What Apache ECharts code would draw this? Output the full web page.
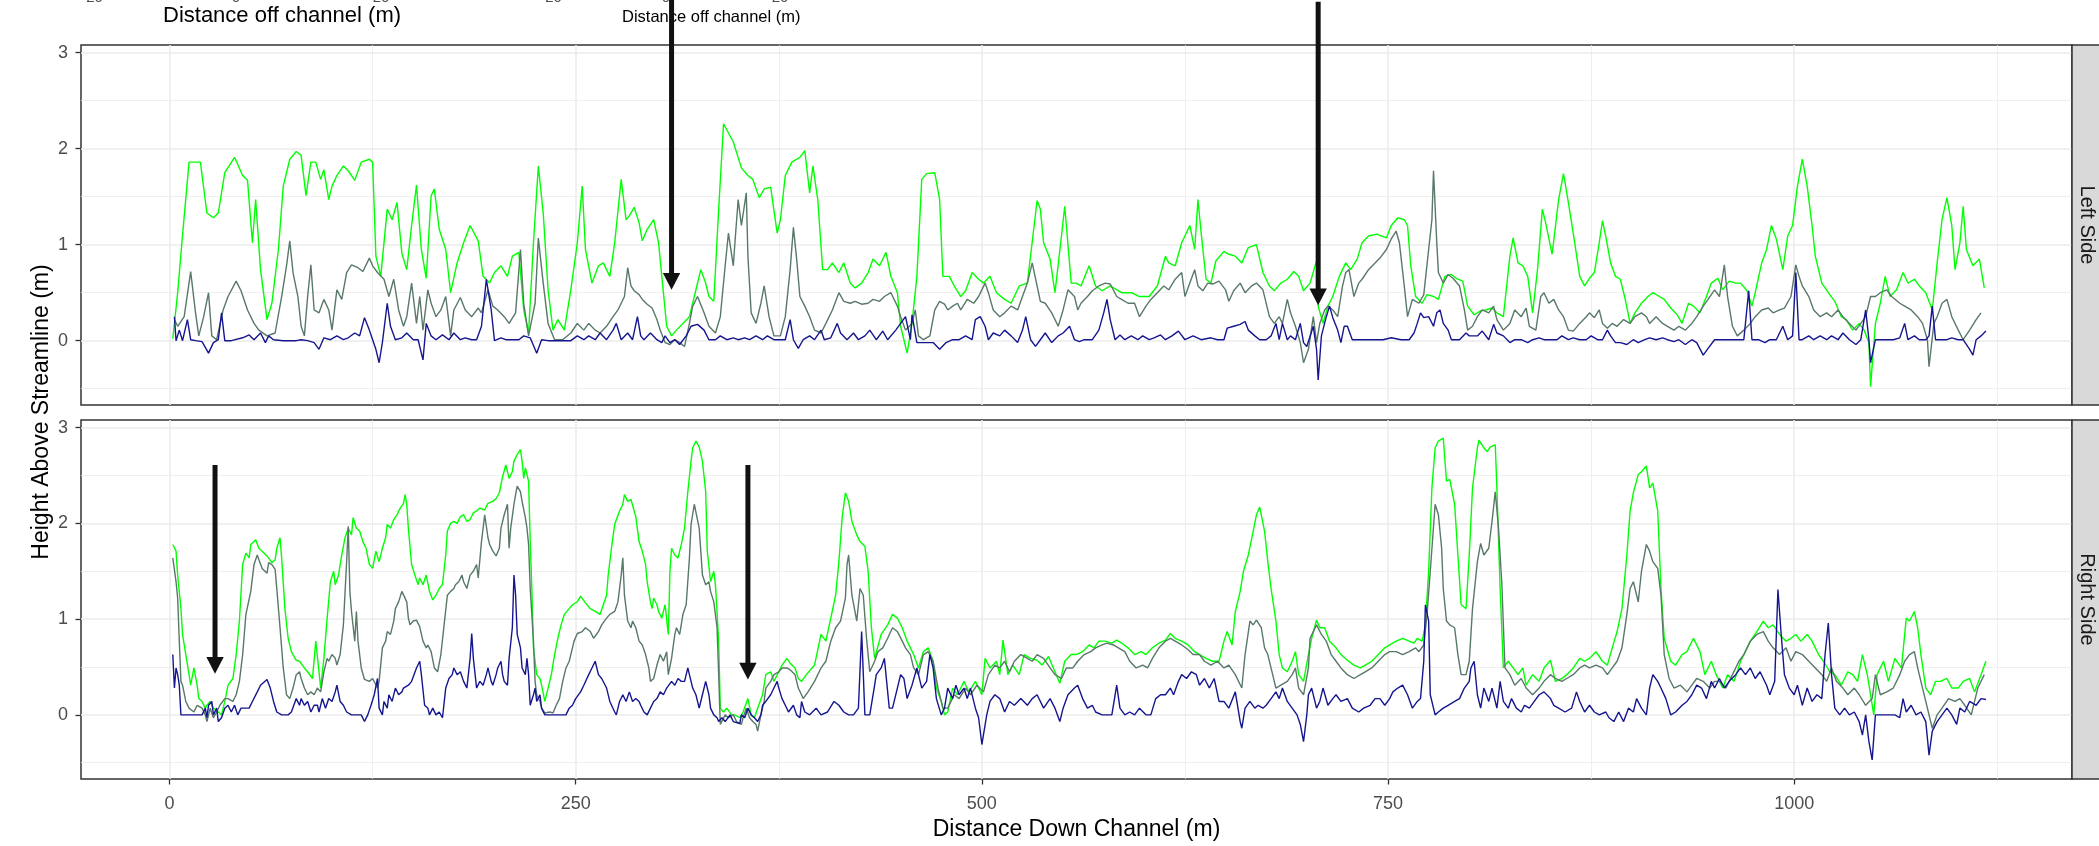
<!DOCTYPE html>
<html><head><meta charset="utf-8">
<script src="https://cdn.jsdelivr.net/npm/echarts@6/dist/echarts.min.js"></script>
<style>html,body{margin:0;padding:0;background:#fff}#c{width:2099px;height:846px}</style>
</head><body><div id="c"></div>
<script>
// ---------- tick labels / categories ----------
const xTicks = [0, 250, 500, 750, 1000];
const yTicks = [0, 1, 2, 3];
const panelNames = ['Left Side', 'Right Side'];
const xTitle = 'Distance Down Channel (m)';
const yTitle = 'Height Above Streamline (m)';
const insetTitles = ['Distance off channel (m)', 'Distance off channel (m)'];
const insetTickLabels = ['-20', '0', '20', '-20', '0', '20'];

// ---------- series values: [distance down channel, height] ----------
const leftGreen = [[2,0.02],[5,0.5],[8,1.1],[12,1.86],[19,1.86],[23,1.33],[27,1.28],[30,1.33],[34,1.75],[40,1.91],[45,1.72],[48,1.67],[51,1.02],[53,1.47],[56,0.74],[60,0.22],[63,0.39],[67,0.95],[70,1.61],[74,1.89],[78,1.97],[81,1.93],[84,1.51],[87,1.86],[90,1.86],[93,1.68],[95,1.78],[98,1.47],[100,1.61],[103,1.72],[107,1.82],[110,1.77],[114,1.67],[118,1.86],[123,1.89],[125,1.86],[127,0.88],[130,0.67],[134,1.37],[137,1.26],[140,1.44],[143,0.91],[146,0.74],[149,1.2],[152,1.62],[155,0.95],[158,0.65],[161,1.51],[163,1.58],[166,1.16],[170,0.95],[173,0.5],[177,0.81],[181,1.02],[185,1.2],[190,1.04],[193,0.67],[197,0.6],[200,0.71],[204,0.78],[208,0.67],[211,0.88],[215,0.92],[218,0.32],[221,0.08],[224,1.02],[227,1.82],[230,1.33],[233,0.53],[236,0.11],[239,0.22],[243,0.11],[247,0.53],[251,1.02],[254,1.61],[256,0.95],[260,0.6],[264,0.78],[267,0.81],[271,0.67],[274,1.02],[278,1.68],[281,1.26],[283,1.3],[286,1.39],[289,1.23],[291,1.04],[294,1.16],[298,1.26],[301,1.02],[303,0.67],[306,0.15],[309,0.05],[312,0.11],[316,0.18],[320,0.25],[323,0.46],[327,0.74],[330,0.6],[332,0.46],[335,0.41],[338,1.37],[341,2.26],[347,2.07],[352,1.8],[356,1.72],[359,1.68],[363,1.49],[366,1.58],[370,1.6],[374,1.12],[376,1.26],[379,1.72],[383,1.86],[388,1.91],[391,1.98],[394,1.54],[396,1.82],[399,1.47],[402,0.74],[405,0.74],[408,0.81],[412,0.71],[415,0.81],[419,0.6],[422,0.55],[426,0.6],[430,0.71],[433,0.85],[437,0.78],[441,0.92],[444,0.67],[448,0.5],[450,0.15],[454,-0.13],[457,0.18],[460,0.67],[463,1.68],[466,1.74],[471,1.75],[474,1.47],[476,0.67],[480,0.67],[483,0.57],[487,0.46],[490,0.52],[494,0.71],[498,0.64],[501,0.6],[505,0.67],[509,0.5],[514,0.43],[518,0.39],[523,0.57],[528,0.6],[534,1.46],[536,1.37],[538,1.02],[542,0.85],[545,0.5],[549,1.09],[551,1.4],[555,0.6],[558,0.6],[561,0.57],[566,0.78],[570,0.57],[574,0.52],[579,0.57],[586,0.5],[592,0.5],[597,0.46],[603,0.46],[608,0.57],[613,0.88],[615,0.81],[619,0.78],[623,1.02],[625,1.09],[628,1.2],[631,0.95],[633,1.47],[635,1.12],[638,0.64],[641,0.6],[644,0.83],[649,0.93],[652,0.9],[656,0.88],[660,0.81],[664,0.97],[669,1.0],[673,0.71],[677,0.57],[680,0.52],[684,0.6],[688,0.64],[692,0.72],[695,0.67],[698,0.52],[702,0.6],[706,0.83],[707,0.36],[710,0.18],[713,0.36],[716,0.46],[720,0.67],[724,0.81],[727,0.74],[731,0.85],[734,1.02],[738,1.09],[743,1.11],[749,1.07],[752,1.2],[756,1.28],[760,1.26],[762,1.2],[764,0.78],[767,0.46],[771,0.39],[774,0.48],[778,0.46],[781,0.43],[785,0.67],[789,0.69],[792,0.65],[796,0.62],[799,0.36],[803,0.27],[807,0.31],[810,0.32],[814,0.34],[817,0.29],[821,0.25],[825,0.88],[827,1.07],[830,0.81],[833,0.78],[836,0.67],[839,0.29],[842,0.74],[845,1.37],[847,1.23],[851,0.9],[855,1.47],[858,1.74],[861,1.44],[864,1.12],[868,0.67],[871,0.57],[874,0.65],[877,0.71],[880,1.02],[882,1.25],[884,1.09],[887,0.81],[890,0.67],[893,0.64],[896,0.43],[899,0.18],[902,0.29],[906,0.39],[910,0.46],[913,0.5],[917,0.46],[920,0.43],[924,0.34],[928,0.27],[931,0.18],[935,0.39],[938,0.36],[942,0.29],[946,0.46],[949,0.6],[953,0.65],[956,0.53],[960,0.62],[964,0.6],[967,0.6],[971,0.52],[974,0.36],[976,0.5],[980,0.81],[983,0.95],[986,1.2],[989,1.06],[993,0.74],[996,1.09],[999,1.2],[1002,1.61],[1005,1.89],[1008,1.61],[1011,1.2],[1013,0.88],[1017,0.6],[1021,0.5],[1025,0.41],[1029,0.25],[1032,0.22],[1036,0.11],[1040,0.18],[1043,0.11],[1046,-0.02],[1047,-0.48],[1050,0.18],[1053,0.39],[1056,0.67],[1059,0.46],[1063,0.53],[1067,0.71],[1070,0.6],[1074,0.64],[1077,0.57],[1081,0.5],[1085,0.32],[1088,0.81],[1091,1.26],[1094,1.49],[1097,1.2],[1099,0.74],[1102,1.02],[1104,1.4],[1106,0.95],[1110,0.78],[1114,0.85],[1117,0.55]];

const leftGrey = [[3,0.22],[5,0.15],[9,0.25],[13,0.72],[16,0.29],[18,0.05],[21,0.25],[24,0.5],[26,0.05],[29,0.01],[33,0.32],[36,0.46],[41,0.62],[44,0.52],[48,0.32],[52,0.18],[55,0.11],[60,0.05],[65,0.08],[69,0.46],[72,0.78],[74,1.04],[76,0.71],[79,0.46],[81,0.15],[83,0.05],[85,0.46],[87,0.79],[89,0.32],[92,0.29],[95,0.43],[98,0.32],[100,0.11],[103,0.53],[106,0.43],[109,0.71],[112,0.79],[116,0.76],[119,0.72],[123,0.86],[125,0.78],[128,0.71],[132,0.64],[135,0.46],[138,0.64],[141,0.32],[144,0.15],[146,0.25],[149,0.6],[152,0.18],[154,0.46],[156,0.11],[159,0.53],[161,0.39],[164,0.25],[167,0.32],[170,0.46],[173,0.05],[175,0.32],[179,0.45],[182,0.32],[186,0.25],[190,0.34],[192,0.29],[196,0.53],[199,0.36],[202,0.32],[206,0.25],[209,0.18],[213,0.29],[216,0.95],[218,0.39],[221,0.05],[225,0.39],[227,1.07],[230,0.6],[233,0.18],[237,0.01],[242,0.01],[247,0.08],[251,0.18],[255,0.11],[258,0.18],[262,0.11],[265,0.08],[269,0.15],[273,0.25],[276,0.32],[278,0.39],[280,0.46],[282,0.76],[284,0.57],[286,0.52],[289,0.48],[291,0.43],[294,0.38],[297,0.34],[300,0.22],[302,0.11],[305,-0.02],[308,-0.04],[311,0.01],[314,-0.02],[317,-0.06],[320,0.18],[322,0.36],[325,0.46],[329,0.29],[332,0.15],[336,0.08],[339,0.25],[342,0.78],[344,1.12],[347,0.78],[348,1.02],[350,1.47],[352,1.2],[355,1.54],[356,0.88],[358,0.29],[361,0.18],[364,0.39],[366,0.57],[369,0.25],[372,0.05],[376,0.05],[379,0.25],[382,0.74],[384,1.18],[386,0.85],[388,0.46],[391,0.36],[394,0.25],[397,0.11],[401,0.08],[404,0.18],[408,0.32],[412,0.5],[415,0.41],[419,0.39],[422,0.41],[426,0.38],[430,0.39],[433,0.43],[437,0.41],[440,0.46],[444,0.5],[448,0.36],[450,0.25],[453,0.11],[457,0.18],[459,0.32],[461,0.05],[464,0.01],[468,0.05],[471,0.32],[474,0.41],[477,0.38],[479,0.32],[482,0.36],[485,0.39],[487,0.32],[491,0.43],[495,0.39],[498,0.46],[502,0.6],[504,0.5],[507,0.32],[511,0.25],[514,0.29],[518,0.36],[522,0.32],[525,0.46],[528,0.6],[531,0.81],[534,0.57],[536,0.41],[539,0.39],[543,0.29],[547,0.15],[550,0.32],[553,0.53],[557,0.46],[559,0.32],[561,0.39],[565,0.46],[568,0.52],[572,0.57],[576,0.6],[579,0.59],[583,0.46],[586,0.43],[590,0.39],[594,0.39],[597,0.25],[601,0.36],[604,0.43],[608,0.5],[612,0.57],[615,0.53],[619,0.64],[623,0.71],[625,0.46],[628,0.6],[631,0.74],[633,0.57],[636,0.52],[639,0.6],[642,0.59],[646,0.62],[650,0.53],[652,0.41],[655,0.52],[659,0.6],[662,0.5],[666,0.57],[669,0.6],[673,0.53],[677,0.25],[680,0.18],[683,0.25],[685,0.18],[688,0.43],[690,0.29],[693,0.15],[696,-0.02],[698,-0.23],[701,-0.09],[704,0.25],[706,-0.02],[708,0.18],[711,0.32],[713,0.36],[716,0.32],[719,0.25],[722,0.57],[724,0.71],[726,0.74],[729,0.46],[732,0.6],[734,0.64],[738,0.74],[742,0.81],[745,0.86],[749,0.95],[752,1.06],[755,1.14],[757,1.02],[760,0.57],[762,0.25],[765,0.43],[769,0.39],[772,0.48],[775,0.95],[777,1.26],[778,1.77],[780,1.02],[781,0.71],[784,0.6],[787,0.69],[790,0.65],[794,0.57],[797,0.32],[799,0.11],[802,0.15],[805,0.25],[808,0.32],[812,0.29],[815,0.36],[817,0.22],[821,0.11],[825,0.18],[828,0.32],[832,0.25],[835,0.34],[837,0.15],[841,0.11],[844,0.46],[846,0.5],[849,0.39],[852,0.43],[855,0.32],[858,0.25],[861,0.11],[864,0.1],[868,0.18],[872,0.25],[874,0.29],[877,0.24],[880,0.32],[882,0.18],[885,0.13],[888,0.18],[891,0.15],[895,0.22],[899,0.18],[902,0.25],[906,0.29],[909,0.25],[911,0.18],[915,0.25],[919,0.18],[922,0.15],[926,0.11],[929,0.15],[933,0.11],[937,0.18],[940,0.25],[944,0.36],[947,0.43],[951,0.53],[954,0.46],[957,0.79],[959,0.46],[962,0.15],[965,0.05],[969,0.11],[973,0.18],[976,0.25],[980,0.32],[984,0.34],[987,0.29],[991,0.32],[994,0.34],[998,0.46],[1001,0.79],[1003,0.67],[1005,0.57],[1009,0.46],[1012,0.32],[1016,0.25],[1020,0.29],[1023,0.25],[1027,0.32],[1030,0.25],[1034,0.18],[1038,0.11],[1041,0.18],[1044,0.25],[1047,0.46],[1050,0.46],[1053,0.5],[1057,0.53],[1060,0.46],[1065,0.39],[1068,0.36],[1072,0.32],[1076,0.25],[1079,0.18],[1082,0.01],[1083,-0.27],[1086,0.18],[1088,0.25],[1091,0.39],[1094,0.43],[1097,0.25],[1101,0.11],[1104,0.01],[1108,0.11],[1112,0.22],[1115,0.29]];

const leftBlue = [[3,0.25],[4,0.0],[6,0.11],[8,0.0],[11,0.22],[13,0.01],[16,0.0],[20,-0.01],[24,-0.13],[27,-0.02],[30,0.01],[32,0.29],[34,0.0],[38,0.0],[45,0.03],[49,0.06],[52,0.01],[56,0.08],[59,-0.02],[61,0.05],[64,0.01],[70,0.0],[78,0.0],[81,0.01],[85,0.0],[89,-0.02],[92,-0.09],[95,0.03],[99,0.01],[103,0.05],[107,0.01],[110,0.03],[114,0.08],[117,0.05],[120,0.24],[123,0.11],[125,0.01],[127,-0.09],[129,-0.23],[131,-0.02],[134,0.39],[136,0.15],[139,0.01],[143,0.03],[146,0.08],[150,0.01],[153,0.01],[156,-0.2],[158,0.18],[161,0.05],[164,0.01],[168,0.06],[172,0.01],[175,0.08],[179,0.01],[182,0.03],[186,0.01],[189,0.01],[192,0.15],[195,0.64],[198,0.32],[200,0.0],[204,0.03],[207,0.01],[211,0.01],[215,0.01],[218,0.05],[222,0.03],[226,-0.13],[229,0.01],[233,0.0],[240,0.0],[247,0.0],[251,0.05],[255,0.01],[258,0.05],[262,0.01],[265,0.08],[269,0.01],[273,0.11],[275,0.18],[278,0.01],[282,0.08],[285,0.01],[288,0.25],[290,0.05],[292,0.01],[296,0.08],[300,0.01],[303,-0.02],[305,0.05],[308,-0.02],[311,0.01],[314,-0.04],[318,0.05],[321,0.15],[325,0.17],[329,0.11],[332,0.01],[336,0.01],[339,0.05],[343,0.01],[347,0.03],[350,0.01],[354,0.03],[357,0.01],[361,0.05],[365,0.01],[368,0.05],[372,0.01],[376,0.01],[379,0.01],[382,0.22],[384,0.01],[387,-0.08],[390,0.01],[394,0.05],[397,0.01],[401,0.11],[403,0.01],[407,0.03],[411,0.18],[413,0.08],[417,0.01],[421,0.08],[424,0.01],[428,0.05],[431,0.11],[435,0.01],[439,0.1],[442,0.01],[447,0.11],[450,0.18],[453,0.25],[456,0.01],[457,0.27],[460,-0.02],[463,-0.02],[467,-0.02],[470,-0.02],[474,-0.09],[478,-0.02],[482,0.01],[486,0.01],[490,0.05],[494,0.01],[496,0.22],[499,0.25],[502,0.15],[504,0.01],[507,0.08],[511,0.05],[514,0.11],[518,0.05],[522,-0.02],[525,0.11],[527,0.25],[530,0.01],[533,-0.06],[536,0.01],[539,0.08],[543,-0.02],[547,0.05],[550,0.08],[554,0.15],[557,0.01],[560,-0.01],[563,0.01],[568,0.01],[572,0.11],[575,0.29],[577,0.43],[579,0.22],[582,0.01],[585,0.06],[588,0.01],[592,0.05],[596,0.01],[599,0.05],[603,0.01],[606,0.03],[610,0.06],[613,0.01],[617,0.05],[621,0.1],[625,0.01],[630,0.05],[635,0.01],[641,0.03],[645,0.01],[649,0.01],[651,0.13],[655,0.15],[659,0.17],[662,0.2],[664,0.11],[668,0.05],[671,0.01],[675,0.01],[678,0.05],[681,0.18],[683,0.01],[685,0.18],[688,0.01],[690,0.05],[693,0.01],[696,0.18],[698,-0.02],[700,-0.06],[704,0.15],[706,-0.09],[707,-0.41],[709,0.05],[712,0.25],[714,0.36],[716,0.24],[719,0.11],[721,-0.02],[723,0.15],[725,0.15],[728,0.01],[733,0.01],[736,0.01],[742,0.01],[747,0.01],[752,0.03],[758,0.01],[763,0.01],[766,0.08],[768,0.18],[770,0.29],[772,0.24],[775,0.25],[778,0.15],[780,0.29],[782,0.32],[784,0.18],[787,0.11],[789,0.01],[794,0.01],[798,0.08],[800,0.05],[805,0.05],[808,0.1],[812,0.01],[815,0.17],[817,0.08],[821,0.05],[825,-0.02],[828,0.01],[832,0.01],[836,-0.02],[839,0.01],[843,0.03],[846,0.01],[850,0.01],[854,0.01],[857,0.05],[861,0.01],[864,0.03],[868,0.01],[872,0.01],[875,0.05],[879,0.01],[882,0.01],[885,0.11],[887,0.05],[890,-0.02],[893,-0.02],[897,-0.04],[901,0.01],[904,-0.02],[908,0.01],[911,0.03],[915,0.01],[919,0.03],[922,0.01],[926,-0.01],[929,0.01],[933,-0.04],[937,0.01],[940,-0.02],[944,-0.15],[947,-0.08],[951,0.01],[955,0.01],[958,0.01],[962,0.01],[965,0.01],[969,0.01],[972,0.52],[974,0.01],[978,0.01],[982,-0.02],[985,0.01],[989,0.01],[993,0.15],[996,0.01],[999,0.05],[1001,0.71],[1003,0.01],[1005,0.01],[1009,0.05],[1012,0.01],[1016,0.05],[1020,0.01],[1023,0.05],[1027,0.01],[1030,0.08],[1034,0.01],[1038,-0.04],[1041,0.01],[1044,0.32],[1046,0.01],[1047,-0.23],[1050,0.01],[1054,0.01],[1058,0.01],[1061,0.01],[1065,0.03],[1068,0.18],[1070,0.01],[1074,0.05],[1077,0.01],[1081,0.01],[1083,0.05],[1085,0.36],[1087,0.01],[1090,0.01],[1094,0.01],[1097,0.03],[1101,0.01],[1104,0.01],[1108,-0.09],[1110,-0.15],[1112,0.01],[1115,0.05],[1118,0.1]];

const rightGreen = [[2,1.78],[4,1.71],[5,1.46],[7,1.11],[8,0.84],[10,0.63],[12,0.42],[13,0.31],[15,0.49],[17,0.31],[18,0.17],[20,0.14],[22,0.07],[23,0.1],[25,0.14],[27,0.07],[30,0.03],[32,0.0],[34,0.14],[36,0.31],[39,0.38],[41,0.63],[43,0.98],[45,1.57],[47,1.69],[49,1.64],[50,1.78],[53,1.83],[55,1.74],[57,1.71],[60,1.66],[61,1.64],[63,1.59],[65,1.62],[66,1.74],[68,1.85],[69,1.64],[71,1.11],[73,0.8],[75,0.66],[78,0.57],[80,0.56],[83,0.49],[85,0.45],[88,0.38],[90,0.77],[92,0.45],[93,0.28],[95,0.59],[97,1.01],[99,1.39],[101,1.5],[102,1.36],[104,1.46],[106,1.67],[108,1.85],[110,1.95],[112,1.88],[113,2.06],[115,1.95],[117,1.92],[119,1.81],[121,1.74],[123,1.57],[125,1.53],[127,1.71],[129,1.6],[131,1.74],[133,1.85],[134,1.99],[136,1.95],[138,2.04],[140,2.09],[142,2.16],[144,2.21],[145,2.3],[146,2.2],[147,1.95],[149,1.57],[151,1.46],[153,1.36],[154,1.43],[156,1.36],[158,1.46],[160,1.29],[162,1.2],[164,1.25],[166,1.32],[168,1.36],[170,1.67],[171,1.92],[173,2.0],[175,2.02],[177,2.0],[179,2.07],[181,2.09],[183,2.02],[185,2.04],[187,2.11],[189,2.13],[191,2.16],[194,2.14],[196,2.21],[199,2.23],[201,2.26],[203,2.32],[205,2.49],[207,2.61],[209,2.47],[211,2.54],[212,2.65],[214,2.72],[216,2.77],[217,2.65],[218,2.47],[219,2.58],[221,2.44],[222,1.81],[223,1.32],[224,0.7],[226,0.42],[228,0.38],[229,0.31],[231,0.14],[233,0.28],[235,0.42],[237,0.63],[239,0.8],[241,0.94],[243,1.05],[246,1.11],[248,1.15],[251,1.18],[253,1.24],[256,1.17],[259,1.11],[262,1.08],[265,1.05],[267,1.15],[269,1.25],[270,1.46],[272,1.74],[274,1.99],[277,2.13],[279,2.2],[280,2.3],[282,2.23],[284,2.25],[287,2.07],[289,1.81],[291,1.71],[293,1.57],[294,1.39],[296,1.18],[297,1.11],[298,1.22],[300,1.15],[301,1.08],[303,1.01],[305,1.15],[307,0.84],[308,1.5],[309,1.74],[311,1.67],[313,1.64],[315,1.78],[317,1.95],[319,2.33],[321,2.65],[322,2.79],[324,2.86],[326,2.8],[328,2.65],[330,2.33],[331,1.71],[333,1.39],[335,1.5],[336,1.36],[338,0.77],[339,0.07],[341,0.03],[343,0.07],[346,0.0],[348,0.0],[351,-0.03],[353,0.03],[356,0.17],[358,0.0],[360,-0.03],[362,0.07],[365,0.21],[367,0.42],[370,0.45],[372,0.35],[375,0.45],[377,0.52],[380,0.59],[382,0.54],[385,0.49],[387,0.38],[389,0.35],[392,0.42],[397,0.52],[401,0.84],[404,0.77],[407,1.01],[410,1.25],[412,1.6],[414,2.06],[416,2.32],[418,2.23],[420,2.02],[423,1.88],[425,1.81],[428,1.76],[430,1.5],[432,0.91],[434,0.59],[438,0.84],[442,0.94],[445,1.05],[448,1.01],[451,0.91],[454,0.77],[458,0.63],[461,0.49],[464,0.66],[467,0.7],[470,0.56],[472,0.28],[475,0.14],[477,0.0],[479,0.03],[482,0.28],[485,0.21],[489,0.35],[492,0.24],[496,0.35],[500,0.21],[502,0.59],[505,0.49],[509,0.56],[511,0.42],[513,0.78],[516,0.42],[519,0.52],[523,0.42],[526,0.63],[530,0.59],[534,0.57],[537,0.52],[541,0.61],[544,0.49],[548,0.33],[551,0.56],[555,0.63],[558,0.63],[562,0.66],[566,0.73],[569,0.7],[572,0.77],[576,0.77],[580,0.75],[583,0.78],[586,0.75],[590,0.7],[594,0.63],[598,0.66],[601,0.63],[605,0.7],[609,0.75],[613,0.78],[616,0.85],[619,0.8],[623,0.77],[627,0.73],[631,0.66],[634,0.63],[638,0.59],[642,0.56],[646,0.56],[649,0.77],[651,0.87],[654,0.73],[656,1.08],[659,1.29],[661,1.5],[664,1.67],[667,1.92],[669,2.09],[671,2.17],[674,1.92],[676,1.6],[678,1.32],[681,0.98],[683,0.63],[685,0.49],[688,0.45],[691,0.56],[693,0.66],[695,0.42],[698,0.35],[701,0.63],[703,0.8],[706,0.99],[708,0.91],[711,0.91],[714,0.77],[718,0.7],[721,0.63],[725,0.57],[729,0.52],[733,0.49],[736,0.52],[740,0.56],[744,0.63],[748,0.7],[751,0.73],[755,0.77],[759,0.8],[763,0.77],[766,0.75],[768,0.8],[771,0.77],[773,0.94],[775,1.5],[777,2.37],[779,2.79],[781,2.86],[784,2.89],[786,2.44],[788,2.46],[791,2.2],[793,1.67],[795,1.15],[798,1.11],[800,1.67],[802,2.37],[805,2.79],[806,2.87],[809,2.79],[811,2.75],[813,2.8],[816,2.82],[817,2.37],[819,1.32],[821,0.49],[824,0.56],[827,0.49],[830,0.42],[833,0.49],[835,0.31],[839,0.42],[843,0.35],[846,0.49],[850,0.57],[853,0.35],[857,0.38],[860,0.42],[864,0.49],[868,0.59],[871,0.56],[874,0.59],[878,0.66],[882,0.56],[885,0.52],[888,0.7],[891,0.87],[894,1.11],[897,1.67],[899,2.13],[901,2.32],[904,2.51],[906,2.54],[909,2.6],[911,2.37],[913,2.42],[916,2.13],[918,1.32],[920,0.8],[924,0.56],[927,0.52],[931,0.63],[934,0.66],[938,0.8],[942,0.66],[945,0.42],[949,0.56],[952,0.42],[956,0.28],[959,0.42],[963,0.35],[967,0.56],[970,0.66],[973,0.77],[977,0.87],[981,0.98],[984,0.91],[987,0.94],[991,0.84],[995,0.77],[998,0.8],[1001,0.84],[1004,0.77],[1008,0.84],[1011,0.77],[1015,0.63],[1018,0.56],[1022,0.45],[1025,0.42],[1029,0.31],[1033,0.45],[1036,0.42],[1039,0.35],[1042,0.63],[1045,0.42],[1049,0.0],[1051,0.42],[1055,0.56],[1058,0.35],[1062,0.59],[1066,0.49],[1069,1.01],[1071,0.98],[1074,1.08],[1076,0.91],[1078,0.63],[1081,0.28],[1084,0.21],[1087,0.35],[1090,0.35],[1094,0.38],[1097,0.28],[1101,0.28],[1104,0.35],[1108,0.38],[1111,0.24],[1115,0.42],[1118,0.56]];

const rightGrey = [[2,1.64],[4,1.39],[5,1.22],[6,0.77],[7,0.35],[8,0.31],[10,0.14],[12,0.07],[15,0.03],[17,0.1],[20,0.07],[22,0.0],[23,-0.07],[25,0.07],[27,-0.03],[29,0.03],[31,0.1],[34,0.17],[36,0.17],[39,0.14],[41,0.21],[43,0.35],[45,0.63],[47,1.05],[50,1.29],[52,1.57],[54,1.67],[55,1.62],[57,1.53],[60,1.48],[61,1.59],[63,1.57],[65,1.52],[66,1.32],[68,0.91],[70,0.49],[72,0.21],[74,0.17],[76,0.28],[78,0.42],[80,0.45],[81,0.38],[83,0.28],[85,0.21],[87,0.24],[89,0.21],[91,0.28],[93,0.24],[95,0.45],[97,0.59],[98,0.56],[100,0.63],[102,0.59],[103,0.52],[105,0.63],[107,0.94],[109,1.6],[110,1.97],[111,1.29],[112,1.08],[114,0.77],[115,1.08],[116,0.77],[118,0.49],[120,0.37],[123,0.35],[125,0.38],[128,0.28],[129,0.35],[131,0.7],[133,0.77],[134,0.87],[136,0.84],[138,0.98],[139,1.11],[141,1.18],[143,1.29],[144,1.31],[146,1.18],[147,1.01],[148,0.94],[150,0.98],[152,0.99],[154,0.92],[156,0.77],[158,0.7],[159,0.73],[161,0.66],[163,0.49],[165,0.45],[167,0.63],[169,0.94],[171,1.25],[173,1.29],[175,1.32],[176,1.36],[178,1.39],[180,1.46],[181,1.39],[183,1.32],[185,1.46],[187,1.5],[189,1.57],[190,1.43],[192,1.81],[194,2.09],[196,1.85],[197,1.78],[199,1.71],[201,1.66],[203,1.74],[204,1.95],[206,2.09],[208,2.2],[209,1.74],[210,1.95],[212,2.2],[213,2.3],[214,2.39],[216,2.33],[217,2.23],[219,2.06],[220,1.95],[221,1.78],[222,1.32],[224,0.77],[225,0.35],[226,0.21],[228,0.14],[229,0.07],[231,0.02],[234,0.03],[236,0.02],[238,0.1],[240,0.17],[242,0.35],[244,0.49],[246,0.56],[248,0.7],[249,0.77],[251,0.85],[254,0.87],[256,0.91],[259,0.87],[261,0.8],[264,0.87],[266,0.94],[269,1.01],[271,1.05],[274,1.08],[276,1.18],[278,1.46],[279,1.64],[280,1.25],[282,0.98],[284,0.91],[285,0.98],[287,0.91],[289,0.77],[291,0.73],[293,0.63],[295,0.49],[296,0.35],[298,0.38],[300,0.52],[302,0.63],[304,0.56],[306,0.66],[307,0.42],[309,0.59],[311,0.84],[312,0.91],[314,0.84],[316,1.05],[318,1.15],[320,1.64],[321,1.99],[323,2.2],[324,2.2],[326,1.95],[327,1.71],[328,1.46],[330,1.36],[332,1.39],[333,1.29],[335,1.18],[337,0.91],[338,0.42],[339,-0.1],[342,0.0],[344,-0.03],[347,0.0],[349,-0.07],[352,-0.1],[353,-0.03],[355,0.07],[357,-0.03],[359,-0.07],[361,-0.1],[362,-0.17],[364,0.0],[366,0.14],[367,0.28],[370,0.35],[372,0.42],[375,0.45],[377,0.49],[380,0.49],[382,0.47],[385,0.42],[387,0.28],[389,0.21],[390,0.17],[393,0.24],[397,0.35],[401,0.49],[404,0.56],[407,0.77],[410,0.91],[413,0.98],[416,1.22],[417,1.57],[418,1.67],[420,1.25],[423,0.98],[425,1.32],[427,1.25],[429,0.8],[431,0.45],[434,0.56],[436,0.66],[439,0.7],[442,0.8],[445,0.91],[448,0.87],[451,0.77],[453,0.7],[456,0.63],[458,0.49],[461,0.42],[464,0.63],[467,0.66],[470,0.56],[473,0.28],[476,0.07],[479,0.07],[483,0.21],[486,0.17],[490,0.28],[493,0.21],[497,0.31],[501,0.24],[504,0.42],[508,0.52],[511,0.49],[514,0.56],[517,0.45],[520,0.56],[524,0.63],[528,0.59],[531,0.56],[534,0.63],[538,0.59],[542,0.49],[545,0.42],[549,0.38],[552,0.49],[556,0.49],[559,0.56],[563,0.63],[567,0.66],[570,0.7],[574,0.73],[577,0.75],[581,0.73],[584,0.7],[588,0.66],[591,0.56],[595,0.49],[599,0.52],[602,0.49],[605,0.59],[609,0.7],[613,0.77],[616,0.8],[619,0.77],[623,0.73],[627,0.68],[630,0.63],[634,0.63],[637,0.56],[641,0.52],[645,0.56],[649,0.49],[652,0.52],[656,0.42],[660,0.28],[662,0.63],[665,0.98],[667,0.94],[669,0.99],[672,0.91],[674,0.7],[676,0.63],[679,0.42],[681,0.28],[684,0.31],[688,0.35],[691,0.42],[693,0.49],[695,0.28],[698,0.21],[701,0.49],[702,0.8],[704,0.87],[706,0.94],[709,0.84],[712,0.77],[715,0.63],[718,0.56],[721,0.49],[725,0.42],[729,0.38],[733,0.42],[736,0.45],[740,0.49],[744,0.56],[748,0.63],[751,0.66],[755,0.66],[759,0.63],[763,0.66],[767,0.7],[769,0.66],[772,0.73],[774,1.05],[776,1.5],[779,2.2],[781,2.09],[783,1.74],[784,1.32],[786,0.98],[788,0.94],[791,0.91],[793,0.63],[795,0.42],[798,0.42],[800,0.56],[802,1.11],[805,1.6],[807,1.79],[809,1.67],[812,1.74],[814,2.02],[816,2.33],[818,1.95],[820,1.39],[822,0.49],[825,0.42],[828,0.31],[832,0.38],[835,0.28],[839,0.21],[843,0.28],[846,0.35],[850,0.42],[853,0.38],[857,0.35],[860,0.38],[864,0.42],[868,0.49],[871,0.52],[874,0.49],[878,0.52],[882,0.49],[885,0.42],[888,0.49],[891,0.56],[894,0.7],[897,1.05],[899,1.32],[901,1.39],[904,1.18],[906,1.5],[909,1.78],[911,1.71],[913,1.6],[916,1.53],[918,1.25],[920,0.63],[923,0.38],[926,0.28],[930,0.31],[934,0.24],[937,0.31],[940,0.38],[944,0.35],[948,0.28],[951,0.35],[954,0.35],[958,0.28],[962,0.42],[966,0.56],[969,0.63],[973,0.77],[977,0.84],[981,0.87],[984,0.77],[987,0.7],[991,0.63],[995,0.7],[998,0.56],[1001,0.66],[1005,0.63],[1009,0.56],[1013,0.49],[1017,0.42],[1020,0.35],[1023,0.49],[1026,0.35],[1030,0.28],[1033,0.21],[1037,0.28],[1040,0.21],[1044,0.1],[1048,0.17],[1050,0.42],[1053,0.21],[1057,0.24],[1061,0.28],[1065,0.42],[1068,0.56],[1071,0.63],[1074,0.66],[1076,0.49],[1079,0.28],[1082,0.07],[1085,-0.14],[1088,0.0],[1091,0.07],[1095,0.17],[1099,0.14],[1102,0.17],[1105,0.1],[1109,0.0],[1113,0.28],[1117,0.42]];

const rightBlue = [[2,0.63],[3,0.28],[4,0.49],[5,0.42],[6,0.31],[7,0.0],[10,0.0],[13,0.0],[17,0.0],[20,0.0],[22,0.07],[23,-0.03],[24,0.1],[26,0.14],[27,0.0],[29,0.07],[30,-0.07],[32,-0.03],[34,0.07],[36,0.1],[38,0.03],[40,0.1],[42,0.0],[44,0.07],[46,0.07],[49,0.07],[51,0.14],[54,0.24],[56,0.31],[60,0.37],[62,0.28],[64,0.14],[66,0.03],[69,0.0],[73,0.0],[75,0.03],[78,0.17],[80,0.1],[81,0.17],[83,0.1],[85,0.14],[87,0.03],[89,0.1],[91,0.1],[92,0.03],[94,0.17],[96,0.07],[98,0.17],[100,0.14],[102,0.24],[103,0.31],[105,0.14],[107,0.1],[109,0.03],[112,0.0],[115,0.0],[118,0.0],[120,-0.07],[122,0.0],[124,0.1],[126,0.21],[128,0.38],[129,0.07],[131,0.0],[132,0.14],[134,0.07],[135,0.21],[137,0.14],[139,0.28],[141,0.21],[143,0.24],[144,0.28],[147,0.31],[149,0.35],[152,0.49],[154,0.56],[155,0.42],[157,0.1],[159,0.07],[160,0.0],[162,0.07],[164,0.0],[166,0.03],[168,-0.03],[170,0.28],[172,0.38],[174,0.42],[175,0.49],[177,0.42],[179,0.45],[181,0.35],[183,0.28],[185,0.59],[186,0.85],[187,0.59],[189,0.28],[191,0.35],[193,0.31],[195,0.42],[196,0.49],[198,0.35],[199,0.31],[201,0.42],[202,0.49],[204,0.56],[205,0.42],[206,0.35],[208,0.31],[209,0.59],[211,0.91],[212,1.46],[213,1.25],[214,0.84],[215,0.77],[216,0.7],[217,0.49],[219,0.42],[220,0.59],[221,0.42],[222,0.1],[224,0.21],[225,0.28],[226,0.14],[228,0.21],[229,0.07],[231,0.0],[234,0.0],[238,0.0],[241,0.0],[244,0.0],[246,0.07],[248,0.1],[250,0.17],[253,0.24],[255,0.31],[258,0.42],[260,0.49],[262,0.56],[264,0.42],[266,0.38],[269,0.28],[271,0.14],[274,0.03],[275,0.0],[277,0.14],[279,0.21],[281,0.14],[283,0.24],[285,0.14],[287,0.17],[289,0.14],[290,0.1],[292,0.03],[294,0.0],[296,0.07],[298,0.14],[300,0.17],[302,0.24],[304,0.21],[306,0.28],[307,0.28],[309,0.35],[311,0.31],[313,0.38],[315,0.35],[317,0.35],[319,0.49],[321,0.35],[322,0.28],[324,0.21],[326,0.07],[328,0.21],[330,0.35],[332,0.21],[333,0.07],[335,0.0],[337,-0.03],[338,-0.07],[340,-0.03],[342,-0.07],[345,0.0],[347,-0.07],[348,-0.05],[351,-0.09],[352,0.0],[354,-0.03],[356,0.07],[358,0.0],[360,-0.03],[362,-0.07],[364,0.0],[365,0.1],[367,0.14],[370,0.21],[372,0.28],[374,0.35],[375,0.28],[377,0.17],[379,0.1],[381,0.03],[384,0.1],[386,0.0],[388,-0.03],[389,0.14],[391,0.03],[394,0.0],[398,0.07],[401,0.0],[405,0.03],[409,0.14],[412,0.1],[415,0.03],[418,0.0],[421,0.0],[424,0.07],[426,0.87],[428,0.0],[431,0.0],[434,0.31],[435,0.42],[438,0.49],[440,0.59],[443,0.07],[445,0.07],[448,0.28],[450,0.42],[452,0.38],[454,0.17],[457,0.31],[460,0.49],[463,0.28],[466,0.35],[468,0.63],[470,0.49],[472,0.17],[475,0.0],[477,0.07],[479,0.28],[482,0.17],[484,0.31],[486,0.21],[489,0.28],[491,0.17],[493,0.28],[496,0.07],[498,-0.03],[500,-0.31],[503,0.0],[505,0.14],[508,0.21],[511,0.17],[514,0.03],[517,0.14],[520,0.1],[524,0.17],[528,0.1],[531,0.17],[534,0.21],[538,0.07],[542,0.17],[545,0.07],[548,-0.07],[550,0.07],[553,0.21],[557,0.28],[559,0.31],[562,0.17],[565,0.07],[568,0.1],[570,0.03],[574,0.0],[577,0.0],[580,0.0],[583,0.31],[585,0.07],[588,0.0],[591,0.03],[594,0.0],[597,0.07],[601,0.0],[604,0.0],[607,0.17],[610,0.21],[613,0.21],[616,0.28],[618,0.21],[621,0.35],[623,0.42],[626,0.38],[629,0.45],[632,0.42],[634,0.31],[637,0.38],[640,0.28],[643,0.38],[646,0.14],[649,0.14],[652,0.07],[656,0.24],[659,-0.07],[660,-0.14],[662,0.07],[665,0.14],[668,0.07],[670,0.1],[673,0.07],[675,0.1],[678,0.17],[681,0.24],[683,0.17],[685,0.28],[688,0.14],[691,0.07],[694,0.0],[696,-0.1],[698,-0.28],[700,0.0],[701,0.21],[703,0.28],[706,0.07],[708,0.14],[710,0.28],[713,0.1],[716,0.17],[718,0.21],[721,0.14],[725,0.17],[728,0.07],[732,0.03],[735,0.07],[739,0.1],[742,0.17],[745,0.17],[748,0.1],[751,0.17],[753,0.24],[756,0.28],[759,0.31],[762,0.21],[765,0.07],[768,0.14],[770,0.17],[772,0.56],[773,1.15],[775,0.98],[776,0.21],[779,0.0],[781,0.03],[784,0.07],[787,0.1],[791,0.14],[794,0.17],[797,0.28],[800,0.35],[801,0.49],[803,0.56],[805,0.21],[807,0.07],[809,0.28],[812,0.14],[814,0.28],[817,0.07],[819,0.35],[821,0.14],[824,0.07],[826,0.17],[829,0.07],[832,0.03],[834,0.1],[837,0.07],[840,0.14],[843,0.21],[846,0.24],[850,0.17],[852,0.1],[855,0.07],[859,0.03],[863,0.07],[866,0.24],[868,0.14],[871,0.03],[874,0.1],[877,0.03],[880,0.0],[884,0.03],[886,-0.03],[889,-0.07],[892,0.03],[895,-0.07],[898,0.07],[901,0.03],[903,0.17],[906,0.07],[909,0.0],[911,0.28],[913,0.42],[916,0.35],[918,0.28],[921,0.17],[924,0.0],[927,0.03],[931,0.1],[934,0.14],[937,0.21],[940,0.31],[943,0.28],[946,0.17],[949,0.35],[951,0.28],[954,0.38],[957,0.28],[960,0.35],[964,0.42],[967,0.49],[970,0.42],[973,0.49],[976,0.38],[979,0.45],[983,0.31],[985,0.21],[988,0.35],[990,1.31],[992,0.84],[994,0.42],[997,0.28],[1000,0.21],[1002,0.31],[1005,0.1],[1008,0.28],[1011,0.14],[1014,0.21],[1017,0.17],[1019,0.63],[1021,0.96],[1023,0.42],[1025,0.07],[1028,0.0],[1031,0.07],[1034,0.0],[1037,0.03],[1040,-0.07],[1042,-0.21],[1044,0.0],[1046,-0.28],[1048,-0.47],[1050,0.0],[1052,0.0],[1057,0.0],[1062,0.0],[1065,-0.03],[1067,0.17],[1069,0.03],[1072,0.1],[1075,0.0],[1078,0.03],[1081,-0.07],[1083,-0.42],[1085,-0.17],[1088,-0.07],[1091,0.0],[1094,0.07],[1097,0.0],[1100,-0.1],[1102,0.07],[1105,0.03],[1108,0.14],[1112,0.1],[1115,0.17],[1118,0.16]];

// arrows: [x, top y, tip y] in data units, per panel
const arrowsLeft = [[309, 3.57, 0.53], [707, 3.53, 0.37]];
const arrowsRight = [[28, 2.61, 0.43], [356, 2.61, 0.37]];

// ---------- chart ----------
const FONT = "'Liberation Sans', Arial, Helvetica, sans-serif";
const COL_GREEN = '#00ff00', COL_GREY = '#587868', COL_BLUE = '#15158f';
const GRID_L = 81, GRID_R = 27;
const gridBoxes = [{top: 45, height: 360}, {top: 420, height: 359}];

const chart = echarts.init(document.getElementById('c'), null, {renderer: 'canvas'});

function xAx(i, show) {
  return {
    type: 'value', gridIndex: i, min: -54.5, max: 1171, minInterval: 250, maxInterval: 250,
    axisLine: {show: false, onZero: false},
    axisTick: {show: show, length: 5.5, customValues: xTicks, lineStyle: {color: '#333333', width: 1.3}},
    axisLabel: {show: show, customValues: xTicks, margin: 16, fontSize: 18, color: '#4d4d4d', fontFamily: FONT, formatter: v => String(v)},
    splitLine: {show: true, lineStyle: {color: '#ebebeb', width: 1.5}},
    minorTick: {show: false, splitNumber: 2},
    minorSplitLine: {show: true, lineStyle: {color: '#ebebeb', width: 0.8}}
  };
}
function yAx(i) {
  return {
    type: 'value', gridIndex: i, min: -0.67, max: 3.08, minInterval: 1, maxInterval: 1,
    axisLine: {show: false, onZero: false},
    axisTick: {show: true, length: 5.5, customValues: yTicks, lineStyle: {color: '#333333', width: 1.3}},
    axisLabel: {customValues: yTicks, margin: 13, fontSize: 18, color: '#4d4d4d', fontFamily: FONT, formatter: v => String(v)},
    splitLine: {show: true, lineStyle: {color: '#ebebeb', width: 1.5}},
    minorTick: {show: false, splitNumber: 2},
    minorSplitLine: {show: true, lineStyle: {color: '#ebebeb', width: 0.8}}
  };
}
function ser(data, color, i) {
  return {type: 'line', xAxisIndex: i, yAxisIndex: i, data: data, showSymbol: false, symbol: 'none',
    lineStyle: {color: color, width: 1.4}, itemStyle: {color: color}, silent: true, animation: false, clip: true};
}

const option = {
  animation: false,
  backgroundColor: '#ffffff',
  grid: gridBoxes.map(b => ({left: GRID_L, right: GRID_R, top: b.top, height: b.height, show: true,
    borderColor: '#333333', borderWidth: 1.5, backgroundColor: '#ffffff', containLabel: false})),
  xAxis: [xAx(0, false), xAx(1, true)],
  yAxis: [yAx(0), yAx(1)],
  series: [
    ser(leftGreen, COL_GREEN, 0), ser(leftGrey, COL_GREY, 0), ser(leftBlue, COL_BLUE, 0),
    ser(rightGreen, COL_GREEN, 1), ser(rightGrey, COL_GREY, 1), ser(rightBlue, COL_BLUE, 1)
  ]
};
chart.setOption(option);

// ---------- annotations ----------
const W = 2099;
const gfx = [];
const stripX = W - GRID_R;
gridBoxes.forEach((b, i) => {
  gfx.push({type: 'rect', shape: {x: stripX, y: b.top, width: 30, height: b.height},
    style: {fill: '#d9d9d9', stroke: '#333333', lineWidth: 1.5}, z: 50});
  gfx.push({type: 'text', x: stripX + 14.5, y: b.top + b.height / 2, rotation: -Math.PI / 2,
    style: {text: panelNames[i], fontSize: 20, fontFamily: FONT, fill: '#1a1a1a', align: 'center', verticalAlign: 'middle'}, z: 51});
});
// axis titles
const plotMidX = GRID_L + (W - GRID_L - GRID_R) / 2;
gfx.push({type: 'text', x: plotMidX, y: 830,
  style: {text: xTitle, fontSize: 23, fontFamily: FONT, fill: '#000000', align: 'center', verticalAlign: 'middle'}, z: 60});
gfx.push({type: 'text', x: 42, y: (gridBoxes[0].top + gridBoxes[1].top + gridBoxes[1].height) / 2, rotation: Math.PI / 2,
  style: {text: yTitle, fontSize: 23, fontFamily: FONT, fill: '#000000', align: 'center', verticalAlign: 'middle'}, z: 60});
// cut-off inset texts at the top edge
gfx.push({type: 'text', x: 163, y: 16,
  style: {text: insetTitles[0], fontSize: 22, fontFamily: FONT, fill: '#000000', align: 'left', verticalAlign: 'middle'}, z: 60});
gfx.push({type: 'text', x: 622, y: 17.5,
  style: {text: insetTitles[1], fontSize: 16.5, fontFamily: FONT, fill: '#000000', align: 'left', verticalAlign: 'middle'}, z: 60});
const insetTickX = [92, 236, 381, 551, 666, 780];
insetTickLabels.forEach((t, k) => {
  gfx.push({type: 'text', x: insetTickX[k], y: -2,
    style: {text: t, fontSize: 15, fontFamily: FONT, fill: '#4d4d4d', align: 'center', verticalAlign: 'middle'}, z: 60});
});
// arrows through the library's scales
[[arrowsLeft, 0], [arrowsRight, 1]].forEach(([arr, gi]) => {
  arr.forEach(a => {
    const pTop = chart.convertToPixel({gridIndex: gi}, [a[0], a[1]]);
    const pTip = chart.convertToPixel({gridIndex: gi}, [a[0], a[2]]);
    const x = pTop[0], yTop = Math.max(pTop[1], 0), yTip = pTip[1];
    gfx.push({type: 'line', shape: {x1: x, y1: yTop, x2: x, y2: yTip - 14}, style: {stroke: '#111111', lineWidth: 5}, z: 100});
    gfx.push({type: 'polygon', shape: {points: [[x - 8.7, yTip - 16.7], [x + 8.7, yTip - 16.7], [x, yTip]]}, style: {fill: '#111111'}, z: 100});
  });
});
chart.setOption({graphic: gfx});
</script>
</body></html>
